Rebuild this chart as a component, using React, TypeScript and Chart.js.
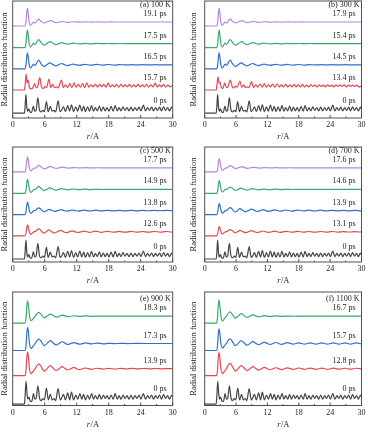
import React, { useEffect, useRef } from "react";
import { Chart, registerables } from "chart.js";
Chart.register(...registerables);

type Pt = [number, number];
const SERIF = "'Liberation Serif','DejaVu Serif',serif";

// ---------- data: r (Å), g(r) ----------
const ZERO_CRYSTAL: Pt[] = [[0,0],[2.2,0],[2.32,1.6],[2.48,4.7],[2.64,1.6],[2.8,0.5],[3.02,1.1],[3.25,0.3],[3.55,0.2],[3.88,1.8],[4.12,0.5],[4.38,0.7],[4.72,3.9],[5.02,0.8],[5.32,0.3],[5.65,0.7],[5.95,0.4],[6.32,2.9],[6.65,0.4],[7.05,1.7],[7.4,0.5],[7.75,0.7],[8.05,0.3],[8.52,3.1],[8.88,0.4],[9.2,0.8],[9.52,1.6],[9.88,0.4],[10.32,1.9],[10.68,0.5],[11.02,2.1],[11.42,0.4],[11.82,1.6],[12.18,0.5],[12.58,2.0],[12.95,0.5],[13.3,1.7],[13.65,0.4],[14.05,1.6],[14.4,0.5],[14.78,1.9],[15.15,0.5],[15.5,1.4],[15.88,0.6],[16.25,1.8],[16.6,0.5],[16.98,1.5],[17.35,0.6],[17.7,1.4],[18.05,0.5],[18.45,1.7],[18.85,0.5],[19.2,1.9],[19.6,0.6],[19.95,1.4],[20.3,0.6],[20.7,1.6],[21.05,0.7],[21.45,1.4],[21.8,0.6],[22.2,1.5],[22.55,0.6],[22.95,1.4],[23.3,0.7],[23.7,1.5],[24.05,0.6],[24.5,2.0],[24.9,0.6],[25.3,1.4],[25.65,0.7],[26.05,1.5],[26.4,0.6],[26.8,1.4],[27.15,0.7],[27.55,1.5],[27.9,0.6],[28.3,1.6],[28.65,0.7],[29.05,1.4],[29.4,0.6],[29.8,1.5],[30,1.0]];

const ZERO_HOT: Pt[] = [[0,0],[2.2,0],[2.33,1.2],[2.5,3.25],[2.68,1.5],[2.85,0.7],[3.05,1.0],[3.3,0.4],[3.6,0.4],[3.9,1.5],[4.15,0.7],[4.4,0.8],[4.72,2.6],[5.05,0.8],[5.35,0.5],[5.65,0.8],[5.95,0.6],[6.32,2.3],[6.68,0.6],[7.05,1.4],[7.4,0.6],[7.75,0.8],[8.05,0.5],[8.52,2.2],[8.9,0.6],[9.2,0.9],[9.52,1.4],[9.88,0.6],[10.32,1.6],[10.68,0.6],[11.02,1.7],[11.42,0.6],[11.82,1.3],[12.2,0.7],[12.6,1.5],[12.95,0.7],[13.3,1.4],[13.65,0.6],[14.05,1.3],[14.4,0.7],[14.8,1.5],[15.15,0.7],[15.5,1.2],[15.9,0.7],[16.25,1.4],[16.6,0.7],[17.0,1.3],[17.35,0.8],[17.7,1.2],[18.05,0.7],[18.45,1.3],[18.85,0.7],[19.2,1.5],[19.6,0.7],[19.95,1.2],[20.3,0.7],[20.7,1.3],[21.05,0.8],[21.45,1.2],[21.8,0.7],[22.2,1.3],[22.55,0.7],[22.95,1.2],[23.3,0.8],[23.7,1.3],[24.05,0.7],[24.5,1.5],[24.9,0.7],[25.3,1.2],[25.65,0.8],[26.05,1.3],[26.4,0.7],[26.8,1.2],[27.15,0.8],[27.55,1.3],[27.9,0.7],[28.3,1.4],[28.65,0.8],[29.05,1.2],[29.4,0.7],[29.8,1.3],[30,1.0]];

const A_RED: Pt[] = [[0,0],[2.2,0],[2.35,1.5],[2.52,4.0],[2.7,1.8],[2.9,2.5],[3.15,0.6],[3.5,0.3],[3.8,0.6],[4.1,1.6],[4.4,0.6],[4.7,0.9],[5.08,3.1],[5.42,0.7],[5.78,0.4],[6.08,0.9],[6.35,0.6],[6.8,2.7],[7.15,0.6],[7.5,1.4],[7.85,0.6],[8.2,0.8],[8.5,0.5],[9.15,2.5],[9.5,0.6],[9.9,1.3],[10.3,0.6],[10.7,1.6],[11.1,0.6],[11.5,1.8],[11.9,0.7],[12.3,1.4],[12.7,0.7],[13.1,1.6],[13.5,0.6],[13.9,1.8],[14.3,0.7],[14.7,1.3],[15.1,0.8],[15.5,1.5],[15.9,0.7],[16.3,1.4],[16.7,0.8],[17.1,1.4],[17.5,0.7],[17.9,1.7],[18.3,0.8],[18.7,1.3],[19.1,0.8],[19.5,1.4],[19.9,0.7],[20.3,1.4],[20.7,0.8],[21.1,1.3],[21.5,0.8],[21.9,1.4],[22.3,0.7],[22.7,1.3],[23.1,0.8],[23.5,1.4],[23.9,0.8],[24.3,1.3],[24.7,0.8],[25.1,1.4],[25.5,0.7],[25.9,1.3],[26.3,0.8],[26.7,1.7],[27.1,0.8],[27.5,1.3],[27.9,0.8],[28.3,1.4],[28.7,0.7],[29.1,1.3],[29.5,0.8],[30,1.1]];

const B_RED: Pt[] = [[0,0],[2.2,0],[2.35,1.4],[2.55,3.3],[2.75,1.7],[2.95,1.9],[3.2,0.6],[3.5,0.4],[3.82,1.8],[4.15,0.6],[4.45,0.8],[4.9,2.5],[5.3,0.7],[5.6,0.5],[5.9,1.0],[6.2,0.7],[6.75,2.25],[7.1,0.7],[7.45,1.3],[7.8,0.6],[8.2,0.8],[8.5,0.6],[8.95,2.1],[9.35,0.6],[9.75,1.3],[10.15,0.7],[10.6,1.5],[11.0,0.7],[11.4,1.6],[11.8,0.7],[12.2,1.3],[12.6,0.8],[13.0,1.5],[13.4,0.7],[13.85,1.5],[14.25,0.8],[14.65,1.3],[15.05,0.8],[15.5,1.4],[15.9,0.8],[16.3,1.3],[16.7,0.8],[17.1,1.4],[17.5,0.8],[17.9,1.3],[18.3,0.8],[18.7,1.4],[19.1,0.8],[19.5,1.2],[19.9,0.8],[20.3,1.3],[20.7,0.9],[21.1,1.2],[21.5,0.8],[21.9,1.3],[22.3,0.9],[22.7,1.2],[23.1,0.8],[23.5,1.3],[23.9,0.9],[24.3,1.2],[24.7,0.8],[25.1,1.3],[25.5,0.9],[25.9,1.2],[26.3,0.9],[26.7,1.3],[27.1,0.8],[27.5,1.2],[27.9,0.9],[28.3,1.2],[28.7,0.9],[29.1,1.2],[29.5,0.8],[30,1.0]];

const L_A191: Pt[] = [[0,0],[2.3,0],[2.5,1.2],[2.65,3.6],[2.78,4.4],[2.92,3.0],[3.1,0.9],[3.35,0.15],[3.6,0.5],[3.9,1.0],[4.2,0.75],[4.55,1.3],[4.9,1.7],[5.3,1.2],[5.9,0.75],[6.5,1.05],[7.15,1.35],[7.7,1.0],[8.2,0.85],[8.75,1.0],[9.3,1.13],[9.9,1.0],[10.4,0.93],[11.5,1.06],[12.6,0.97],[13.7,1.03],[14.8,0.98],[16,1.02],[17.2,0.99],[18.5,1.01],[20,1.0],[22,1.0],[24,1.0],[26,1.0],[28,1.0],[30,1.0]];

const L_A175: Pt[] = [[0,0],[2.3,0],[2.5,1.2],[2.65,3.5],[2.78,4.4],[2.92,3.0],[3.1,0.9],[3.35,0.15],[3.6,0.55],[3.9,1.1],[4.2,0.8],[4.55,1.5],[4.88,2.0],[5.3,1.3],[5.9,0.6],[6.5,1.1],[7.1,1.5],[7.6,1.05],[8.1,0.75],[8.65,1.0],[9.2,1.25],[9.75,1.05],[10.3,0.85],[10.85,1.0],[11.4,1.12],[12.5,0.92],[13.6,1.07],[14.7,0.95],[15.8,1.04],[16.9,0.97],[18.0,1.03],[19.1,0.98],[20.2,1.02],[21.5,0.99],[23,1.01],[25,1.0],[27,1.0],[30,1.0]];

const L_A165: Pt[] = [[0,0],[2.3,0],[2.5,1.1],[2.65,3.2],[2.78,4.0],[2.92,2.8],[3.1,0.9],[3.35,0.2],[3.6,0.6],[3.9,1.15],[4.2,0.85],[4.55,1.6],[4.88,2.2],[5.3,1.3],[5.85,0.55],[6.4,1.0],[6.95,1.5],[7.5,1.1],[8.05,0.7],[8.6,1.0],[9.15,1.33],[9.7,1.05],[10.25,0.8],[10.8,1.0],[11.35,1.18],[11.9,1.0],[12.45,0.88],[13.55,1.12],[14.6,0.9],[15.7,1.1],[16.8,0.92],[17.9,1.08],[19.0,0.94],[20.1,1.06],[21.2,0.96],[22.3,1.04],[23.4,0.97],[24.5,1.03],[25.6,0.98],[26.7,1.02],[28,0.99],[30,1.0]];

const L_C177: Pt[] = [[0,0],[2.3,0],[2.5,1.0],[2.65,3.0],[2.8,3.75],[2.95,2.6],[3.15,0.8],[3.4,0.2],[3.7,0.6],[4.0,0.95],[4.3,0.9],[4.6,1.3],[4.9,1.6],[5.3,1.25],[5.9,0.75],[6.5,1.05],[7.1,1.35],[7.6,1.05],[8.15,0.85],[8.7,1.0],[9.25,1.15],[10.35,0.92],[11.45,1.06],[12.55,0.96],[13.65,1.03],[14.8,0.98],[16,1.01],[18,1.0],[20,1.0],[22,1.0],[24,1.0],[26,1.0],[28,1.0],[30,1.0]];

const L_C149: Pt[] = [[0,0],[2.3,0],[2.5,0.9],[2.65,2.8],[2.8,3.5],[2.95,2.5],[3.15,0.9],[3.4,0.25],[3.7,0.6],[4.0,1.0],[4.3,1.0],[4.6,1.45],[4.9,1.75],[5.3,1.3],[5.85,0.7],[6.4,1.0],[6.95,1.4],[7.5,1.1],[8.05,0.8],[8.6,1.0],[9.15,1.2],[9.7,1.05],[10.25,0.88],[11.35,1.1],[12.45,0.92],[13.55,1.06],[14.65,0.96],[15.75,1.03],[16.9,0.98],[18,1.02],[19.5,0.99],[21,1.0],[23,1.0],[25,1.0],[27,1.0],[30,1.0]];

const L_C138: Pt[] = [[0,0],[2.3,0],[2.5,0.8],[2.65,2.5],[2.8,3.1],[2.95,2.3],[3.15,0.9],[3.4,0.3],[3.7,0.65],[4.0,1.0],[4.3,1.05],[4.6,1.5],[4.9,1.7],[5.3,1.3],[5.85,0.7],[6.4,1.0],[6.85,1.3],[7.3,1.1],[7.9,0.8],[8.45,1.0],[9.0,1.22],[9.55,1.05],[10.1,0.85],[10.65,1.0],[11.2,1.15],[11.75,1.0],[12.3,0.88],[13.4,1.12],[14.5,0.9],[15.6,1.1],[16.7,0.92],[17.8,1.08],[18.9,0.93],[20.0,1.07],[21.1,0.94],[22.2,1.06],[23.3,0.95],[24.4,1.05],[25.5,0.96],[26.6,1.04],[27.7,0.96],[28.8,1.04],[30,0.98]];

const L_C126: Pt[] = [[0,0],[2.3,0],[2.5,0.7],[2.65,2.2],[2.8,2.75],[2.95,2.1],[3.15,0.9],[3.4,0.35],[3.7,0.7],[4.0,1.0],[4.3,1.1],[4.6,1.55],[4.9,1.75],[5.3,1.3],[5.8,0.65],[6.3,1.0],[6.75,1.5],[7.2,1.15],[7.8,0.7],[8.35,1.0],[8.95,1.38],[9.5,1.05],[10.05,0.78],[10.6,1.0],[11.15,1.25],[11.7,1.0],[12.25,0.82],[12.8,1.0],[13.35,1.18],[14.45,0.86],[15.55,1.15],[16.65,0.88],[17.75,1.13],[18.85,0.9],[19.95,1.1],[21.05,0.9],[22.15,1.1],[23.25,0.92],[24.35,1.08],[25.45,0.92],[26.55,1.08],[27.65,0.93],[28.75,1.07],[29.85,0.94],[30,0.95]];

const L_D176: Pt[] = [[0,0],[2.3,0],[2.5,0.8],[2.65,2.6],[2.8,3.3],[2.95,2.4],[3.15,0.9],[3.4,0.3],[3.7,0.65],[4.0,0.95],[4.3,1.0],[4.6,1.35],[4.9,1.55],[5.3,1.25],[5.9,0.78],[6.5,1.05],[7.1,1.3],[7.65,1.05],[8.2,0.86],[8.75,1.0],[9.3,1.13],[10.4,0.93],[11.5,1.05],[12.6,0.97],[13.7,1.02],[15,0.99],[16.5,1.01],[18,1.0],[20,1.0],[22,1.0],[24,1.0],[26,1.0],[28,1.0],[30,1.0]];

const L_D146: Pt[] = [[0,0],[2.3,0],[2.5,0.8],[2.65,2.5],[2.8,3.25],[2.95,2.4],[3.15,0.95],[3.4,0.35],[3.7,0.7],[4.0,1.0],[4.3,1.05],[4.6,1.4],[4.9,1.6],[5.3,1.3],[5.85,0.75],[6.4,1.0],[6.95,1.3],[7.5,1.08],[8.05,0.82],[8.6,1.0],[9.15,1.17],[10.25,0.9],[11.35,1.08],[12.45,0.94],[13.55,1.05],[14.65,0.96],[15.75,1.03],[16.9,0.98],[18,1.02],[19.5,0.99],[21,1.0],[23,1.0],[25,1.0],[27,1.0],[30,1.0]];

const L_D131: Pt[] = [[0,0],[2.3,0],[2.5,0.6],[2.65,1.8],[2.8,2.3],[2.95,1.8],[3.15,0.9],[3.4,0.45],[3.7,0.75],[4.0,1.0],[4.3,1.1],[4.6,1.4],[4.9,1.55],[5.3,1.25],[5.8,0.75],[6.3,1.0],[6.75,1.35],[7.2,1.12],[7.8,0.78],[8.35,1.0],[8.95,1.28],[9.5,1.03],[10.05,0.82],[10.6,1.0],[11.15,1.2],[11.7,1.0],[12.25,0.85],[13.35,1.15],[14.45,0.88],[15.55,1.12],[16.65,0.9],[17.75,1.1],[18.85,0.92],[19.95,1.08],[21.05,0.92],[22.15,1.08],[23.25,0.93],[24.35,1.07],[25.45,0.94],[26.55,1.06],[27.65,0.95],[28.75,1.05],[29.85,0.95],[30,0.96]];

const H_E183: Pt[] = [[0,0],[2.3,0],[2.5,0.7],[2.65,2.4],[2.8,3.2],[2.95,2.5],[3.15,1.0],[3.45,0.35],[3.8,0.6],[4.2,1.0],[4.55,1.35],[4.9,1.55],[5.3,1.3],[5.9,0.75],[6.5,1.05],[7.1,1.3],[7.65,1.05],[8.2,0.85],[8.75,1.0],[9.3,1.15],[10.4,0.92],[11.5,1.06],[12.6,0.96],[13.7,1.03],[14.8,0.98],[16,1.01],[17.5,1.0],[19,1.0],[21,1.0],[23,1.0],[25,1.0],[27,1.0],[30,1.0]];

const H_E173: Pt[] = [[0,0],[2.3,0],[2.5,0.7],[2.65,2.5],[2.8,3.3],[2.95,2.6],[3.15,1.0],[3.45,0.3],[3.8,0.6],[4.2,1.0],[4.55,1.4],[4.9,1.62],[5.3,1.35],[5.9,0.7],[6.5,1.05],[7.05,1.4],[7.6,1.08],[8.15,0.78],[8.7,1.0],[9.25,1.25],[9.8,1.05],[10.35,0.86],[10.9,1.0],[11.45,1.13],[12.55,0.9],[13.65,1.08],[14.75,0.94],[15.85,1.05],[16.95,0.96],[18.05,1.03],[19.15,0.98],[20.3,1.02],[21.5,0.99],[23,1.01],[25,1.0],[27,1.0],[30,1.0]];

const H_E139: Pt[] = [[0,0],[2.3,0],[2.5,0.8],[2.65,2.6],[2.8,3.4],[2.95,2.6],[3.15,1.0],[3.45,0.3],[3.8,0.6],[4.2,1.0],[4.55,1.45],[4.9,1.7],[5.3,1.35],[5.9,0.65],[6.5,1.05],[7.05,1.45],[7.6,1.08],[8.15,0.75],[8.7,1.0],[9.25,1.3],[9.8,1.05],[10.35,0.82],[10.9,1.0],[11.45,1.18],[12.0,1.0],[12.55,0.88],[13.65,1.1],[14.75,0.92],[15.85,1.07],[16.95,0.94],[18.05,1.05],[19.15,0.95],[20.25,1.04],[21.35,0.96],[22.45,1.04],[23.55,0.97],[24.65,1.03],[25.75,0.97],[26.85,1.03],[27.95,0.98],[29.05,1.02],[30,1.0]];

const H_F167: Pt[] = [[0,0],[2.25,0],[2.45,0.8],[2.6,2.6],[2.75,3.3],[2.9,2.5],[3.1,1.0],[3.4,0.3],[3.75,0.6],[4.15,1.0],[4.5,1.4],[4.85,1.6],[5.25,1.3],[5.85,0.72],[6.45,1.05],[7.0,1.35],[7.55,1.05],[8.1,0.82],[8.65,1.0],[9.2,1.18],[10.3,0.9],[11.4,1.08],[12.5,0.95],[13.6,1.04],[14.7,0.97],[15.8,1.02],[17,0.99],[18.5,1.01],[20,1.0],[22,1.0],[24,1.0],[26,1.0],[28,1.0],[30,1.0]];

const H_F157: Pt[] = [[0,0],[2.25,0],[2.45,0.7],[2.6,2.4],[2.75,3.1],[2.9,2.4],[3.1,1.0],[3.4,0.35],[3.75,0.65],[4.15,1.0],[4.5,1.45],[4.85,1.65],[5.25,1.35],[5.85,0.68],[6.45,1.05],[7.0,1.42],[7.55,1.08],[8.1,0.76],[8.65,1.0],[9.2,1.28],[9.75,1.05],[10.3,0.82],[10.85,1.0],[11.4,1.2],[11.95,1.0],[12.5,0.86],[13.6,1.14],[14.7,0.88],[15.8,1.12],[16.9,0.9],[18.0,1.1],[19.1,0.9],[20.2,1.1],[21.3,0.91],[22.4,1.09],[23.5,0.91],[24.6,1.09],[25.7,0.92],[26.8,1.08],[27.9,0.92],[29.0,1.08],[30,0.95]];

const H_F128: Pt[] = [[0,0],[2.25,0],[2.45,0.8],[2.6,2.6],[2.75,3.3],[2.9,2.5],[3.1,1.0],[3.4,0.3],[3.75,0.6],[4.15,1.0],[4.5,1.5],[4.85,1.75],[5.25,1.4],[5.85,0.65],[6.45,1.05],[7.0,1.45],[7.55,1.1],[8.1,0.74],[8.65,1.0],[9.2,1.3],[9.75,1.05],[10.3,0.8],[10.85,1.0],[11.4,1.2],[11.95,1.0],[12.5,0.85],[13.6,1.14],[14.7,0.88],[15.8,1.12],[16.9,0.9],[18.0,1.1],[19.1,0.91],[20.2,1.09],[21.3,0.92],[22.4,1.08],[23.5,0.92],[24.6,1.08],[25.7,0.93],[26.8,1.07],[27.9,0.93],[29.0,1.07],[30,0.96]];

// ---------- panels ----------
const PANEL_TITLES = ["(a) 100 K", "(b) 300 K", "(c) 500 K", "(d) 700 K", "(e) 900 K", "(f) 1100 K"];
const PANEL_TIMES = [
  ["0 ps", "15.7 ps", "16.5 ps", "17.5 ps", "19.1 ps"],
  ["0 ps", "13.4 ps", "14.5 ps", "15.4 ps", "17.9 ps"],
  ["0 ps", "12.6 ps", "13.8 ps", "14.9 ps", "17.7 ps"],
  ["0 ps", "13.1 ps", "13.9 ps", "14.6 ps", "17.6 ps"],
  ["0 ps", "13.9 ps", "17.3 ps", "18.3 ps"],
  ["0 ps", "12.8 ps", "15.7 ps", "16.7 ps"],
];
const PANEL_CURVES: Pt[][][] = [
  [ZERO_CRYSTAL, A_RED, L_A165, L_A175, L_A191],
  [ZERO_CRYSTAL, B_RED, L_A165, L_A175, L_A191],
  [ZERO_CRYSTAL, L_C126, L_C138, L_C149, L_C177],
  [ZERO_CRYSTAL, L_D131, L_C126, L_D146, L_D176],
  [ZERO_HOT, H_E139, H_E173, H_E183],
  [ZERO_HOT, H_F128, H_F157, H_F167],
];
const OFFSETS_5 = [0, 5.8, 11.1, 16.4, 21.8];
const OFFSETS_4 = [0, 4.05, 7.65, 11.55];
const COLORS = ["#454545", "#e8464c", "#2f6fce", "#3aab6c", "#b486e0"];

const X_TICKS = [0, 6, 12, 18, 24, 30];
const X_MINOR = [3, 9, 15, 21, 27];

// ---------- layout ----------
const LAYOUT = [
  { left: 0, top: 0, w: 180, h: 145, padTop: 1, padRight: 7.3, yW: 12.7, xH: 27, ymin: -1.2, ymax: 28.05, yTitlePad: 0 },
  { left: 184, top: 0, w: 184, h: 145, padTop: 1, padRight: 4.7, yW: 20.7, xH: 27, ymin: -1.2, ymax: 28.05, yTitlePad: 4.3 },
  { left: 0, top: 145, w: 180, h: 145, padTop: 2, padRight: 7.3, yW: 12.7, xH: 28, ymin: -0.75, ymax: 28, yTitlePad: 0 },
  { left: 184, top: 145, w: 184, h: 145, padTop: 2, padRight: 4.7, yW: 20.7, xH: 28, ymin: -0.75, ymax: 28, yTitlePad: 4.3 },
  { left: 0, top: 290, w: 180, h: 145, padTop: 2, padRight: 7.3, yW: 12.7, xH: 29.5, ymin: -0.2, ymax: 16, yTitlePad: 0 },
  { left: 184, top: 290, w: 184, h: 145, padTop: 2, padRight: 4.7, yW: 20.7, xH: 29.5, ymin: -0.2, ymax: 16, yTitlePad: 4.3 },
];

function Panel({ idx }: { idx: number }) {
  const ref = useRef<HTMLCanvasElement>(null);
  const L = LAYOUT[idx];
  useEffect(() => {
    const curves = PANEL_CURVES[idx];
    const offsets = curves.length === 5 ? OFFSETS_5 : OFFSETS_4;
    const times = PANEL_TIMES[idx];
    const title = PANEL_TITLES[idx];
    const datasets = curves.map((c, i) => ({
      data: c.map(([r, g]) => ({ x: r, y: g + offsets[i] })),
      borderColor: COLORS[i],
      borderWidth: 1.2,
      pointRadius: 0,
      fill: false,
      cubicInterpolationMode: "monotone" as const,
    }));
    const deco = {
      id: "deco",
      afterDraw(chart: any) {
        const { ctx, chartArea: ca, scales } = chart;
        const xs = scales.x, ys = scales.y;
        ctx.save();
        ctx.strokeStyle = "#505050";
        ctx.lineWidth = 1;
        ctx.strokeRect(ca.left, ca.top, ca.right - ca.left, ca.bottom - ca.top);
        ctx.beginPath();
        for (const v of X_TICKS) {
          const px = xs.getPixelForValue(v);
          ctx.moveTo(px, ca.bottom); ctx.lineTo(px, ca.bottom - 3);
        }
        for (const v of X_MINOR) {
          const px = xs.getPixelForValue(v);
          ctx.moveTo(px, ca.bottom); ctx.lineTo(px, ca.bottom - 1.5);
        }
        ctx.stroke();
        ctx.fillStyle = "#222";
        ctx.font = `8px ${SERIF}`;
        ctx.textAlign = "right";
        ctx.textBaseline = "middle";
        let topY = 0;
        times.forEach((t, i) => {
          const y = ys.getPixelForValue(offsets[i] + 1) - 8;
          topY = y;
          ctx.fillText(t, ca.right - 6, y);
        });
        ctx.fillText(title, ca.right - 2, topY - 9);
        // x title: italic r + "/A"
        const yT = ca.bottom + 19;
        const cx = (ca.left + ca.right) / 2;
        ctx.font = `italic 8.5px ${SERIF}`;
        const w1 = ctx.measureText("r").width;
        ctx.font = `8.5px ${SERIF}`;
        const w2 = ctx.measureText("/A").width;
        const x0 = cx - (w1 + w2) / 2;
        ctx.textAlign = "left";
        ctx.font = `italic 8.5px ${SERIF}`;
        ctx.fillText("r", x0, yT);
        ctx.font = `8.5px ${SERIF}`;
        ctx.fillText("/A", x0 + w1 + 0.5, yT);
        ctx.restore();
      },
    };
    const chart = new Chart(ref.current!, {
      type: "line",
      data: { datasets },
      options: {
        animation: false,
        responsive: false,
        devicePixelRatio: 1,
        layout: { padding: { top: L.padTop, right: L.padRight, left: 0, bottom: 0 } },
        plugins: { legend: { display: false }, tooltip: { enabled: false } },
        scales: {
          x: {
            type: "linear",
            min: 0,
            max: 30,
            grid: { display: false, drawTicks: false },
            border: { display: false },
            ticks: { stepSize: 6, font: { size: 8, family: SERIF }, color: "#222", padding: 2.5, maxRotation: 0, autoSkip: false },
            afterFit(s: any) { s.height = L.xH; },
          },
          y: {
            type: "linear",
            min: L.ymin,
            max: L.ymax,
            grid: { display: false, drawTicks: false },
            border: { display: false },
            ticks: { display: false },
            title: {
              display: true,
              text: "Radial distribution function",
              font: { size: 8.5, family: SERIF },
              color: "#222",
              padding: { top: L.yTitlePad, bottom: 0 },
            },
            afterFit(s: any) { s.width = L.yW; },
          },
        },
      } as any,
      plugins: [deco],
    });
    return () => chart.destroy();
  }, [idx]);
  return (
    <canvas
      ref={ref}
      width={L.w}
      height={L.h}
      style={{ position: "absolute", left: L.left, top: L.top, width: L.w, height: L.h }}
    />
  );
}

export default function App() {
  return (
    <div style={{ position: "fixed", left: 0, top: 0, width: 368, height: 435, background: "#fff", overflow: "hidden" }}>
      {LAYOUT.map((_, i) => (
        <Panel key={i} idx={i} />
      ))}
    </div>
  );
}
